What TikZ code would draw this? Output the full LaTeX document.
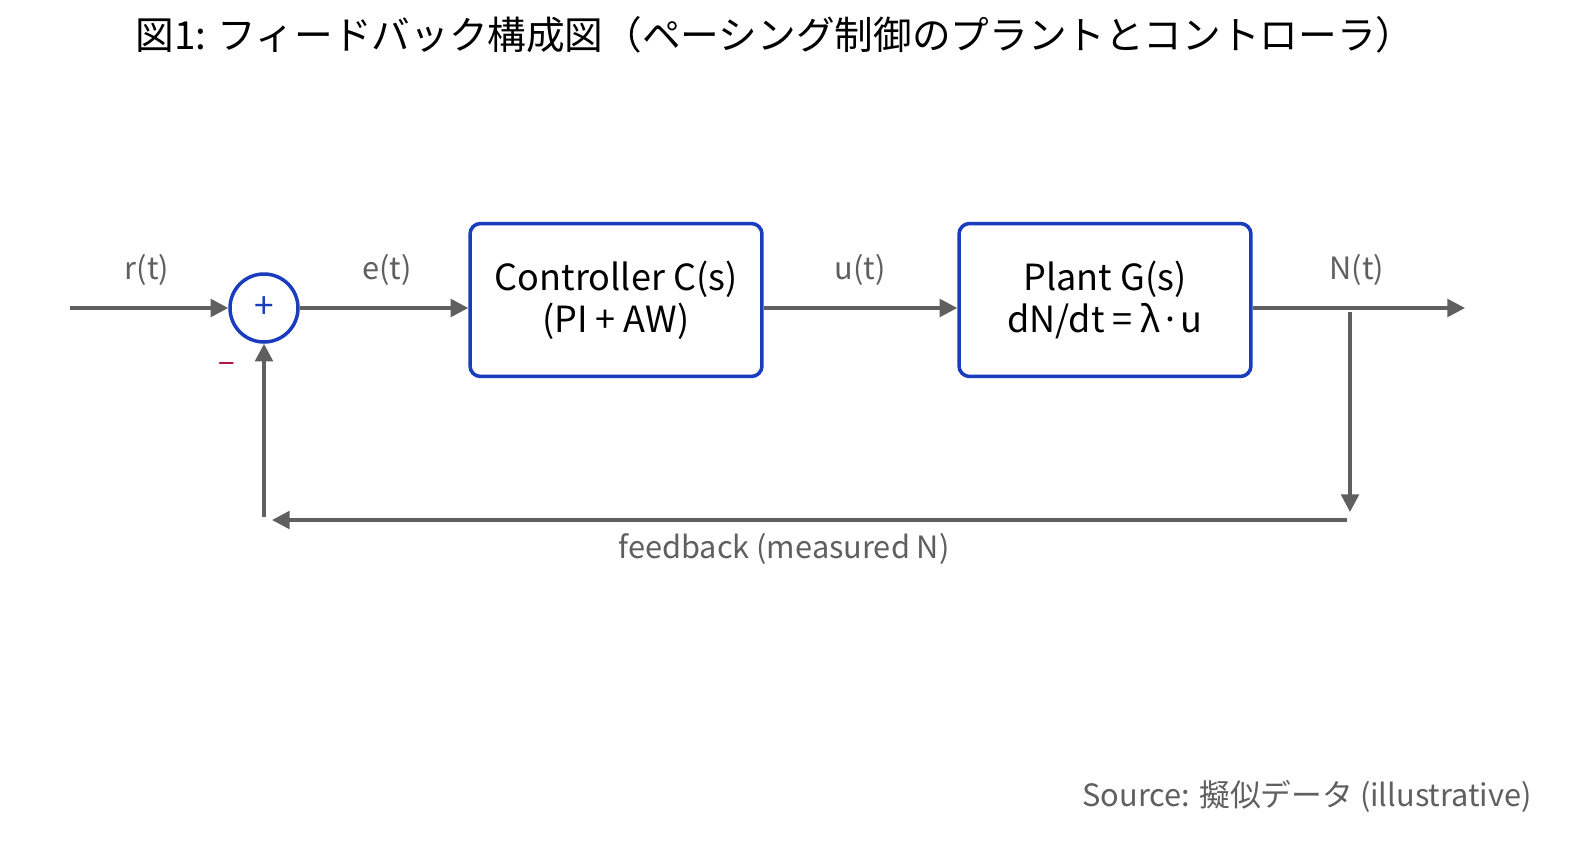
\documentclass[tikz,border=0pt]{standalone}
\usepackage{fontspec}
\setmainfont{Noto Sans CJK JP}
\usetikzlibrary{positioning,arrows.meta}
\definecolor{boxblue}{HTML}{1A3CBF}
\definecolor{wire}{HTML}{5F5F5F}
\definecolor{minusred}{HTML}{B0174A}
\tikzset{
  blk/.style={draw=boxblue,line width=2pt,rounded corners=6pt,minimum width=5.84cm,minimum height=3.06cm,align=center,font=\fontsize{20.5}{24}\selectfont,inner sep=0pt},
  sumnode/.style={circle,draw=boxblue,line width=2pt,minimum size=1.36cm,inner sep=0pt,text=boxblue,font=\fontsize{20}{20}\selectfont},
  sig/.style={draw=wire,line width=2pt,-{Triangle[length=10pt,width=10pt]}},
  lbl/.style={text=wire,font=\fontsize{17.5}{17.5}\selectfont,inner sep=0pt},
}
\begin{document}
\begin{tikzpicture}[x=0.02cm,y=-0.02cm]
        \useasboundingbox (0,0) rectangle (1589,842);
        % title
        \node (title) at (775,35) {\fontsize{22}{22}\selectfont 図1: フィードバック構成図（ペーシング制御のプラントとコントローラ）};
        % blocks
        \node[sumnode] (sum) at (264,308) {+};
        \node[blk] (ctrl) at (616,300) {Controller C(s)\\(PI + AW)};
        \node[blk] (plant) at (1105,300) {Plant G(s)\\dN/dt = \textit{λ}·u};
        \coordinate (in) at (70,308);
        \coordinate (out) at (1465,308);
        \coordinate (tap) at (1350,312);
        \coordinate (tapd) at (1350,512);
        \coordinate (fbr) at (1347,520);
        \coordinate (fbl) at (272,520);
        \coordinate (up) at (264,517);
        % signals
        \draw[sig] (in) -- (sum);
        \draw[sig] (sum) -- (sum -| ctrl.west);
        \draw[sig] (ctrl.east |- sum) -- (plant.west |- sum);
        \draw[sig] (plant.east |- sum) -- (out);
        \draw[sig] (tap) -- (tapd);
        \draw[sig] (fbr) -- (fbl);
        \draw[sig] (up) -- (sum);
        % labels
        \node[lbl] (lr) at (147,270) {r(t)};
        \node[lbl] (le) at (387,270) {e(t)};
        \node[lbl] (lu) at (860,270) {u(t)};
        \node[lbl] (lN) at (1357,270) {N(t)};
        \node[text=minusred,font=\fontsize{17}{17}\selectfont] (minus) at (227,368) {−};
        \node[lbl] (lfb) at (784,549) {feedback (measured N)};
        \node[lbl,anchor=east] (src) at (1532,796) {Source: 擬似データ (illustrative)};
\end{tikzpicture}
\end{document}
